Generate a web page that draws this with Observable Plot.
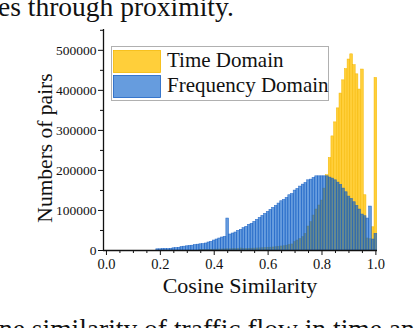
<!DOCTYPE html>
<html>
<head>
<meta charset="utf-8">
<script src="https://cdn.jsdelivr.net/npm/d3@7"></script>
<script src="https://cdn.jsdelivr.net/npm/@observablehq/plot@0.6"></script>
<style>
  html, body { margin: 0; padding: 0; background: #fff; }
  body { width: 416px; height: 328px; overflow: hidden; position: relative; font-family: "Liberation Serif", serif; }
  #chart { position: absolute; left: 0; top: 0; }
  #chart svg { color: #111 !important; }
  #chart svg text { font-family: "Liberation Serif", serif !important; }
  #chart svg g[aria-label="y-axis tick label"] { font-size: 13.5px !important; }
  #chart svg g[aria-label="x-axis tick label"] { font-size: 14.5px !important; }
  .pagetext { position: absolute; white-space: nowrap; font-family: "Liberation Serif", serif; color: #111; }
</style>
</head>
<body>
<div id="chart"></div>
<div class="pagetext" id="topText">es through proximity.</div>
<div class="pagetext" id="bottomText">ne similarity of traffic flow in time and</div>
<script>
// Bin centres of the cosine-similarity histogram (bin width 0.01)
const binWidth = 0.01;
const simBins = d3.range(101).map(i => +(i * binWidth).toFixed(2));

// Counts per bin (index i -> similarity i/100)
const timeDomain = [
  0,0,0,0,0,0,0,0,0,0,            // 0.00-0.09
  0,0,0,0,0,0,0,0,0,0,            // 0.10-0.19
  0,0,0,0,0,0,0,0,0,0,            // 0.20-0.29
  0,0,0,0,0,1000,1200,1500,1800,2000, // 0.30-0.39
  2200,2400,2500,2600,2800,3000,3000,3200,3500,4000, // 0.40-0.49
  5000,4000,4000,4200,4500,4800,5000,5200,5500,6000, // 0.50-0.59
  6600,7000,7500,8000,9000,10000,10500,12000,13300,15000, // 0.60-0.69
  20800,24900,28300,33200,41500,59800,70600,87300,102300,112300, // 0.70-0.79
  124700,154600,188000,231000,285000,320000,355000,392000,425000,453000, // 0.80-0.89
  477000,490000,463000,440000,402000,452000,138000,30000,28000,58000, // 0.90-0.99
  431000 // 1.00
];
const frequencyDomain = [
  0,0,0,0,0,0,0,0,0,0,            // 0.00-0.09
  0,0,0,0,0,0,0,0,0,3000,         // 0.10-0.19
  3000,3500,3500,3500,4000,5500,6000,6500,8500,9500, // 0.20-0.29
  10500,11500,12000,13500,14500,15500,16000,17500,20000,21600, // 0.30-0.39
  24900,27400,29900,32400,34100,79800,39900,42400,44900,49000, // 0.40-0.49
  51500,55700,59000,64000,66500,71500,76500,81400,86400,91400, // 0.50-0.59
  96400,101400,106400,111400,117200,123000,126300,131300,138000,141000, // 0.60-0.69
  149600,153700,159600,164500,168700,175300,177000,181200,185300,185300, // 0.70-0.79
  185300,185300,185300,182000,179500,175300,169500,163700,154600,145400, // 0.80-0.89
  134600,128800,120500,111400,102300,89700,85600,79800,109700,27400, // 0.90-0.99
  41500 // 1.00
];

const seriesNames = ["Time Domain", "Frequency Domain"];
const xTicks = [0, 0.2, 0.4, 0.6, 0.8, 1.0];
const xMinorTicks = [0.05, 0.1, 0.15, 0.25, 0.3, 0.35, 0.45, 0.5, 0.55, 0.65, 0.7, 0.75, 0.85, 0.9, 0.95];
const yTicks = [0, 100000, 200000, 300000, 400000, 500000];
const yMinorTicks = [50000, 150000, 250000, 350000, 450000, 550000];
const xDomain = [-0.011, 1.006];
const yDomain = [0, 552000];

const yellowFill = "#ffcf3a";
const yellowStroke = "#f5b700";
const blueFill = "#005ac8";
const blueStroke = "#1a62c4";

const rows = simBins.map((v, i) => ({v, t: timeDomain[i], f: frequencyDomain[i]}));
const half = binWidth / 2;

const chart = Plot.plot({
  width: 416,
  height: 328,
  marginLeft: 103,
  marginRight: 39,
  marginTop: 29,
  marginBottom: 78,
  x: {domain: xDomain},
  y: {domain: yDomain},
  marks: [
    Plot.rectY(rows.filter(d => d.t > 0), {
      x1: d => d.v - half, x2: d => d.v + half, y: "t",
      fill: yellowFill, stroke: yellowStroke, strokeWidth: 0.5
    }),
    Plot.rectY(rows.filter(d => d.f > 0), {
      x1: d => d.v - half, x2: d => d.v + half, y: "f",
      fill: blueFill, fillOpacity: 0.6, stroke: blueStroke, strokeWidth: 0.6, strokeOpacity: 0.85
    }),
    Plot.axisY({ticks: yTicks, tickSize: 5, tickPadding: 2, tickFormat: d3.format("d"), label: null}),
    Plot.axisY({ticks: yMinorTicks, tickSize: 3, tickFormat: () => "", label: null}),
    Plot.axisX({ticks: xTicks, tickSize: 5, tickPadding: 3, tickFormat: d3.format(".1f"), label: null}),
    Plot.axisX({ticks: xMinorTicks, tickSize: 3, tickFormat: () => "", label: null}),
    Plot.ruleY([yDomain[0]], {stroke: "#111", strokeWidth: 1.3}),
    Plot.ruleX([xDomain[0]], {stroke: "#111", strokeWidth: 1.3})
  ]
});
document.getElementById("chart").appendChild(chart);

// Axis titles and legend
const svg = d3.select(chart);
svg.append("text")
  .attr("x", 240).attr("y", 293)
  .attr("text-anchor", "middle")
  .attr("font-size", 22).attr("fill", "#111")
  .text("Cosine Similarity");
svg.append("text")
  .attr("transform", "translate(52,148) rotate(-90)")
  .attr("text-anchor", "middle")
  .attr("font-size", 21.5).attr("fill", "#111")
  .text("Numbers of pairs");

const lg = svg.append("g");
lg.append("rect").attr("x", 111.5).attr("y", 46.5).attr("width", 217).attr("height", 54)
  .attr("fill", "#fff").attr("stroke", "#b0b0b0").attr("stroke-width", 1);
lg.append("rect").attr("x", 113.5).attr("y", 50.5).attr("width", 47).attr("height", 22)
  .attr("fill", yellowFill).attr("stroke", yellowStroke).attr("stroke-width", 0.8);
lg.append("rect").attr("x", 113.5).attr("y", 75.5).attr("width", 47).attr("height", 22)
  .attr("fill", blueFill).attr("fill-opacity", 0.6).attr("stroke", blueStroke).attr("stroke-width", 0.8);
lg.append("text").attr("x", 167).attr("y", 67).attr("text-anchor", "start")
  .attr("font-size", 21).attr("fill", "#111").text(seriesNames[0]);
lg.append("text").attr("x", 167).attr("y", 92).attr("text-anchor", "start")
  .attr("font-size", 21).attr("fill", "#111").text(seriesNames[1]);

// Surrounding page text of the paper crop
const topText = document.getElementById("topText");
topText.style.left = "-2px"; topText.style.top = "-9px"; topText.style.fontSize = "27.5px";
const bottomText = document.getElementById("bottomText");
bottomText.style.left = "-1px"; bottomText.style.top = "313px"; bottomText.style.fontSize = "27.5px";
</script>
</body>
</html>
